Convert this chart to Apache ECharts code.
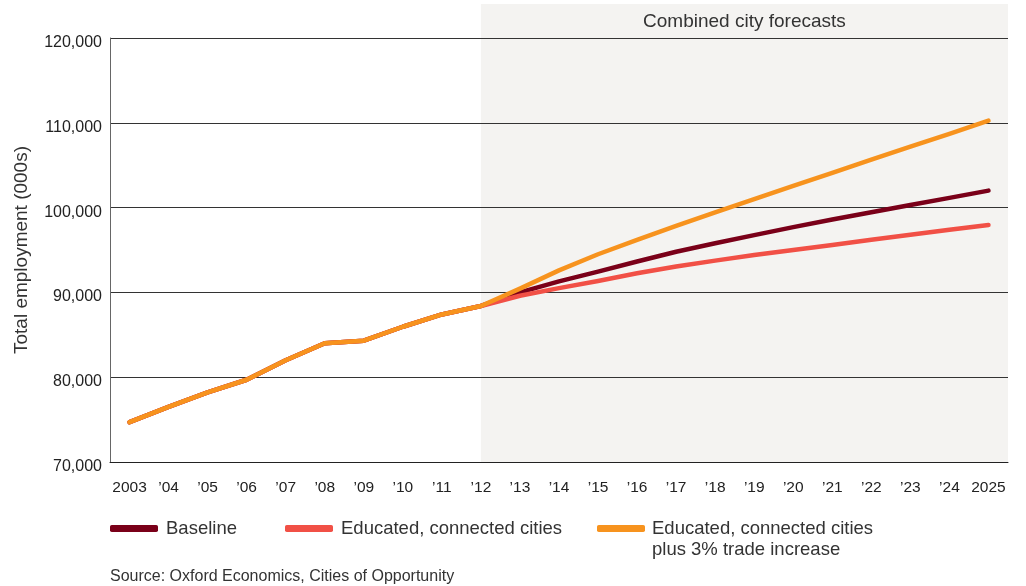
<!DOCTYPE html>
<html>
<head>
<meta charset="utf-8">
<script src="https://cdn.jsdelivr.net/npm/echarts@6/dist/echarts.min.js"></script>
<style>
html,body{margin:0;padding:0;background:#fff;}
#chart{width:1026px;height:586px;}
</style>
</head>
<body>
<div id="chart"></div>
<script>
const years = ['2003','\u201904','\u201905','\u201906','\u201907','\u201908','\u201909','\u201910','\u201911','\u201912','\u201913','\u201914','\u201915','\u201916','\u201917','\u201918','\u201919','\u201920','\u201921','\u201922','\u201923','\u201924','2025'];
const history = [74700, 76500, 78200, 79700, 82000, 84000, 84300, 85950, 87400, 88400];
const baselineForecast = [90000, 91300, 92450, 93650, 94800, 95800, 96750, 97700, 98600, 99450, 100300, 101150, 102000];
const educatedForecast = [89600, 90500, 91350, 92250, 93050, 93750, 94400, 95000, 95600, 96200, 96800, 97400, 97950];
const tradeForecast = [90450, 92600, 94500, 96200, 97850, 99450, 101000, 102550, 104100, 105650, 107200, 108700, 110250];
const yTicks = [70000, 80000, 90000, 100000, 110000, 120000];
const seriesNames = ['Baseline', 'Educated, connected cities', 'Educated, connected cities\nplus 3% trade increase'];
const forecastStart = '\u201912';

const FONT = '"Liberation Sans", Arial, Helvetica, sans-serif';
const TXT = '#333';

const chart = echarts.init(document.getElementById('chart'), null, {renderer: 'canvas'});

function lineSeries(name, forecast, color) {
  return {
    name: name,
    type: 'line',
    data: history.concat(forecast),
    symbol: 'none',
    lineStyle: {width: 4.5, color: color, cap: 'round', join: 'round'},
    itemStyle: {color: color},
    animation: false
  };
}

function legendAt(left, name, pad) {
  return {
    data: [name],
    left: left,
    top: 519,
    icon: 'roundRect',
    itemWidth: 48,
    itemHeight: 7,
    itemGap: 0,
    padding: 0,
    selectedMode: false,
    textStyle: {fontFamily: FONT, fontSize: 18.5, color: TXT, padding: [0, 0, 0, pad]},
    formatter: n => n.split('\n')[0]
  };
}

const option = {
  animation: false,
  backgroundColor: '#fff',
  grid: {left: 110, right: 18, top: 38, bottom: 124},
  xAxis: {
    type: 'category',
    data: years,
    boundaryGap: true,
    axisLine: {show: true, lineStyle: {color: '#222', width: 1}},
    axisTick: {show: false},
    axisLabel: {fontFamily: FONT, fontSize: 15.5, color: '#222', margin: 18, interval: 0}
  },
  yAxis: {
    type: 'value',
    min: yTicks[0],
    max: yTicks[yTicks.length - 1],
    interval: 10000,
    name: 'Total employment (000s)',
    nameLocation: 'middle',
    nameRotate: 90,
    nameGap: 79,
    nameTextStyle: {fontFamily: FONT, fontSize: 19, color: TXT},
    axisLine: {show: true, lineStyle: {color: '#666', width: 1}},
    axisTick: {show: false},
    axisLabel: {fontFamily: FONT, fontSize: 16, color: '#222', margin: 8,
      verticalAlign: 'top', lineHeight: 9,
      formatter: v => v.toLocaleString('en-US')},
    splitLine: {show: true, lineStyle: {color: '#333', width: 1}}
  },
  legend: [
    legendAt(110, seriesNames[0], 3),
    legendAt(285, seriesNames[1], 3),
    legendAt(597, seriesNames[2], 2)
  ],
  series: [
    lineSeries(seriesNames[0], baselineForecast, '#7A0019'),
    lineSeries(seriesNames[1], educatedForecast, '#F15046'),
    lineSeries(seriesNames[2], tradeForecast, '#F7931E')
  ]
};

chart.setOption(option);

const xStart = chart.convertToPixel({xAxisIndex: 0}, forecastStart);
const yBottom = chart.convertToPixel({yAxisIndex: 0}, yTicks[0]);
const xRight = 1026 - 18;

chart.setOption({
  graphic: {
    elements: [
      {
        type: 'rect',
        z: -100,
        shape: {x: xStart, y: 4, width: xRight - xStart, height: yBottom - 4},
        style: {fill: '#F4F3F1'},
        silent: true
      },
      {
        type: 'text',
        z: 100,
        x: (xStart + xRight) / 2,
        y: 22,
        style: {text: 'Combined city forecasts', fontFamily: FONT, fontSize: 19, fill: TXT,
          textAlign: 'center', textVerticalAlign: 'middle'},
        silent: true
      },
      {
        type: 'text',
        z: 100,
        x: 652,
        y: 550,
        style: {text: 'plus 3% trade increase', fontFamily: FONT, fontSize: 18.5, fill: TXT,
          textAlign: 'left', textVerticalAlign: 'middle'},
        silent: true
      },
      {
        type: 'text',
        z: 100,
        x: 110,
        y: 577,
        style: {text: 'Source: Oxford Economics, Cities of Opportunity', fontFamily: FONT, fontSize: 16, fill: TXT,
          textAlign: 'left', textVerticalAlign: 'middle'},
        silent: true
      }
    ]
  }
});
</script>
</body>
</html>
